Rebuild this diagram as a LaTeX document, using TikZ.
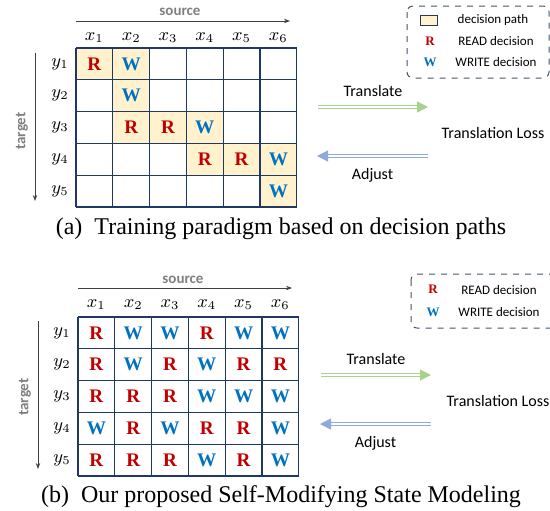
\documentclass[tikz,border=0pt]{standalone}
\usepackage{fontspec}
\setmainfont{Liberation Serif}
\setsansfont{Carlito}
\usetikzlibrary{arrows.meta}
\definecolor{gridline}{HTML}{1F3864}
\definecolor{readc}{HTML}{C00000}
\definecolor{writec}{HTML}{0070C0}
\definecolor{pathfill}{HTML}{FFF2CC}
\definecolor{axisgray}{HTML}{7F7F7F}
\definecolor{legendline}{HTML}{44546A}
\definecolor{transgreen}{HTML}{A9D18E}
\definecolor{adjustblue}{HTML}{8FAADC}

\begin{document}
\begin{tikzpicture}[x=0.5pt, y=-0.5pt,
    cell/.style={minimum width=18.4pt, minimum height=15.9pt, inner sep=0pt,
                 font=\fontsize{9.6}{10}\selectfont\bfseries},
    top R/.style={fill=pathfill, text=readc, node contents=R},
    top W/.style={fill=pathfill, text=writec, node contents=W},
    top E/.style={node contents={}},
    bot R/.style={text=readc, node contents=R},
    bot W/.style={text=writec, node contents=W},
    gridrule/.style={draw=gridline, line width=0.6pt},
    axislabel/.style={text=axisgray, font=\sffamily\bfseries\fontsize{7.5}{9}\selectfont},
    axis/.style={draw=black!75, line width=0.4pt, -{Stealth[length=3pt,width=2.2pt]}},
    idx/.style={font=\fontsize{9}{10}\selectfont},
    legendbox/.style={draw=legendline, dashed, rounded corners=3pt, line width=0.5pt},
    legendtext/.style={font=\sffamily\fontsize{6.5}{8}\selectfont},
    legendmark/.style={font=\bfseries\fontsize{6.5}{8}\selectfont},
    flowlabel/.style={font=\sffamily\fontsize{8}{10}\selectfont},
    translate/.style={draw=transgreen, double=white, double distance=0.6pt,
                      line width=0.6pt, -{Triangle[length=5.5pt,width=5.5pt]}},
    adjust/.style={draw=adjustblue, double=white, double distance=0.6pt,
                   line width=0.6pt, -{Triangle[length=5.5pt,width=5.5pt]}},
    caption/.style={font=\rmfamily\fontsize{12}{14}\selectfont}]
  \useasboundingbox (0,0) rectangle (550,510);

  % (a) decision path grid
  \foreach \row/\cells in {1/{R,W,E,E,E,E}, 2/{E,W,E,E,E,E}, 3/{E,R,R,W,E,E},
                           4/{E,E,E,R,R,W}, 5/{E,E,E,E,E,W}}
    \foreach \c [count=\col] in \cells
      \node (a-\row-\col) at ({76+36.8*(\col-0.5)}, {48+31.8*(\row-0.5)}) [cell, top \c];
  \foreach \k in {0,...,6}
    \draw[gridrule] ({76+36.8*\k},48) -- ({76+36.8*\k},207);
  \foreach \k in {0,...,5}
    \draw[gridrule] (76,{48+31.8*\k}) -- (297,{48+31.8*\k});

  \foreach \i in {1,...,6}
    \node[idx] (ax-\i) at ({76+36.8*(\i-0.5)}, 38) {$x_{\i}$};
  \foreach \j in {1,...,5}
    \node[idx] (ay-\j) at (60, {48+31.8*(\j-0.5)}) {$y_{\j}$};

  \coordinate (asrc-start) at (76,21);
  \coordinate (asrc-end) at (290,21);
  \draw[axis] (asrc-start) -- (asrc-end);
  \node[axislabel] (asrc) at (180,12) {source};
  \coordinate (atgt-start) at (35,53);
  \coordinate (atgt-end) at (35,201);
  \draw[axis] (atgt-start) -- (atgt-end);
  \node[axislabel, rotate=90] (atgt) at (22,131) {target};

  % legend (a)
  \draw[legendbox] (407,6) rectangle (549,78);
  \node[draw=gridline, fill=pathfill, line width=0.4pt, minimum width=8.5pt,
        minimum height=5pt, inner sep=0pt] (akey-path) at (429,20) {};
  \node[legendtext] (alab-path) at (493,20) {decision path};
  \node[legendmark, text=readc] (akey-read) at (430,41) {R};
  \node[legendtext] (alab-read) at (496,41) {READ decision};
  \node[legendmark, text=writec] (akey-write) at (430,62) {W};
  \node[legendtext] (alab-write) at (496,62) {WRITE decision};

  % translate / adjust (a)
  \coordinate (afwd-start) at (318,107);
  \coordinate (afwd-end) at (428,107);
  \draw[translate] (afwd-start) -- node[flowlabel, above=1.5pt] (afwd) {Translate} (afwd-end);
  \node[flowlabel] (aloss) at (493,133) {Translation Loss};
  \coordinate (aback-start) at (428,156);
  \coordinate (aback-end) at (317,156);
  \draw[adjust] (aback-start) -- node[flowlabel, below=2.5pt] (aback) {Adjust} (aback-end);

  \node[caption] (capa) at (281,229) {(a)\enspace Training paradigm based on decision paths};

  % (b) self-modifying states
  \foreach \row/\cells in {1/{R,W,W,R,W,W}, 2/{R,W,R,W,R,R}, 3/{R,R,R,W,W,W},
                           4/{W,R,W,R,R,W}, 5/{R,R,R,W,R,W}}
    \foreach \c [count=\col] in \cells
      \node (b-\row-\col) at ({78+36.8*(\col-0.5)}, {317+31.8*(\row-0.5)}) [cell, bot \c];
  \foreach \k in {0,...,6}
    \draw[gridrule] ({78+36.8*\k},317) -- ({78+36.8*\k},476);
  \foreach \k in {0,...,5}
    \draw[gridrule] (78,{317+31.8*\k}) -- (299,{317+31.8*\k});

  \foreach \i in {1,...,6}
    \node[idx] (bx-\i) at ({78+36.8*(\i-0.5)}, 305) {$x_{\i}$};
  \foreach \j in {1,...,5}
    \node[idx] (by-\j) at (62, {317+31.8*(\j-0.5)}) {$y_{\j}$};

  \coordinate (bsrc-start) at (78,288);
  \coordinate (bsrc-end) at (292,288);
  \draw[axis] (bsrc-start) -- (bsrc-end);
  \node[axislabel] (bsrc) at (183,280) {source};
  \coordinate (btgt-start) at (38,321);
  \coordinate (btgt-end) at (38,469);
  \draw[axis] (btgt-start) -- (btgt-end);
  \node[axislabel, rotate=90] (btgt) at (25,397) {target};

  % legend (b)
  \draw[legendbox] (411,274) rectangle (556,328);
  \node[legendmark, text=readc] (bkey-read) at (433,289) {R};
  \node[legendtext] (blab-read) at (499,290) {READ decision};
  \node[legendmark, text=writec] (bkey-write) at (433,312) {W};
  \node[legendtext] (blab-write) at (499,312) {WRITE decision};

  % translate / adjust (b)
  \coordinate (bfwd-start) at (321,375);
  \coordinate (bfwd-end) at (431,375);
  \draw[translate] (bfwd-start) -- node[flowlabel, above=1.5pt] (bfwd) {Translate} (bfwd-end);
  \node[flowlabel] (bloss) at (498,401) {Translation Loss};
  \coordinate (bback-start) at (431,424);
  \coordinate (bback-end) at (320,424);
  \draw[adjust] (bback-start) -- node[flowlabel, below=2.5pt] (bback) {Adjust} (bback-end);

  \node[caption] (capb) at (281,497) {(b)\enspace Our proposed Self-Modifying State Modeling};
\end{tikzpicture}
\end{document}
